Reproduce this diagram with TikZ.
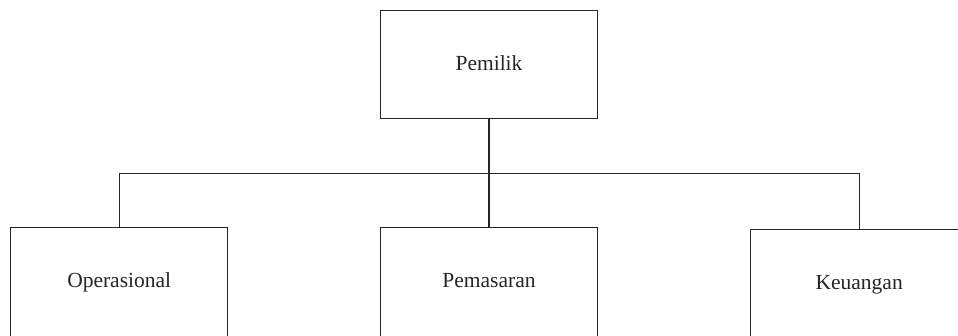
\documentclass[tikz,border=0pt]{standalone}
\usepackage{fontspec}
\setmainfont{Liberation Serif}
\begin{document}
\begin{tikzpicture}[x=1pt,y=-1pt,
  box/.style={draw=black!85,line width=1.4pt,minimum width=217pt,minimum height=108pt,inner sep=0pt,font=\fontsize{21.5}{24}\selectfont,text=black!85,text height=15.5pt,text depth=3.5pt},
  lowbox/.style={box,minimum height=111pt,text height=14pt,text depth=5pt},
  conn/.style={draw=black!85,line width=1.4pt}]
\useasboundingbox (0,0) rectangle (958,335);
\clip (0,0) rectangle (958,335);
\fill[white] (0,0) rectangle (958,335);
\node[box] (top) at (489,64.7) {Pemilik};
\node[lowbox] (left) at (119.2,283.2) {Operasional};
\node[lowbox] (mid) at (489,283.2) {Pemasaran};
\node[lowbox] (right) at (859.2,285.2) {Keuangan};
\coordinate (j) at (489,173.5);
\draw[conn] (top.south) -- (mid.north);
\draw[conn] (left.north) |- (j) -| (right.north);
\end{tikzpicture}
\end{document}
